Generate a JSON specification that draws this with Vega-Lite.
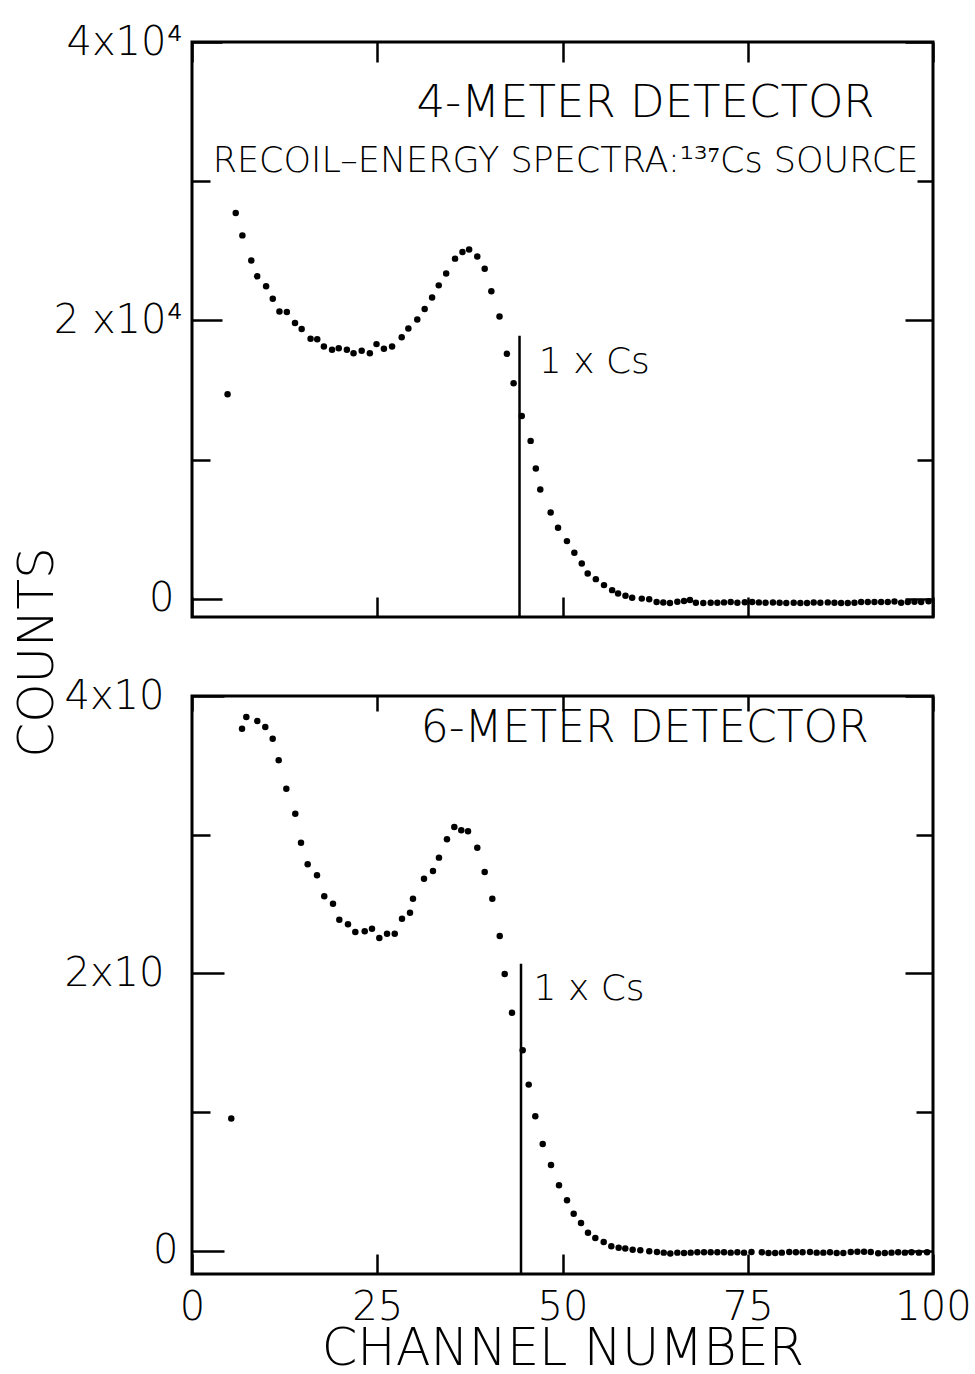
{
  "$schema": "https://vega.github.io/schema/vega-lite/v6.json",
  "background": "white",
  "padding": {"left": 10, "top": 20, "right": 30, "bottom": 0},
  "bounds": "flush",
  "spacing": 79,
  "config": {
    "view": {"stroke": "black", "strokeWidth": 3},
    "font": "DejaVu Sans",
    "axis": {
      "domain": false,
      "grid": false,
      "ticks": true,
      "tickColor": "black",
      "tickWidth": 2.5,
      "labelColor": "black",
      "labelFont": "DejaVu Sans",
      "labelFontWeight": 300,
      "labelFontSize": 40,
      "labelOverlap": false,
      "labelFlush": false,
      "labelBound": false,
      "titleColor": "black",
      "titleFont": "DejaVu Sans",
      "titleFontWeight": 300
    }
  },
  "datasets": {
    "fourMeter": [
      {"channel": 4.8, "counts": 14700}, {"channel": 5.9, "counts": 27720}, {"channel": 6.8, "counts": 26110},
      {"channel": 8.0, "counts": 24300}, {"channel": 8.8, "counts": 23170}, {"channel": 10.0, "counts": 22450},
      {"channel": 10.9, "counts": 21560}, {"channel": 11.8, "counts": 20650}, {"channel": 12.8, "counts": 20600},
      {"channel": 13.9, "counts": 19810}, {"channel": 14.8, "counts": 19390}, {"channel": 16.0, "counts": 18680},
      {"channel": 16.9, "counts": 18650}, {"channel": 17.8, "counts": 18130}, {"channel": 18.9, "counts": 17890},
      {"channel": 19.8, "counts": 18010}, {"channel": 20.9, "counts": 17890}, {"channel": 21.8, "counts": 17650},
      {"channel": 22.9, "counts": 17820}, {"channel": 24.0, "counts": 17650}, {"channel": 24.9, "counts": 18300},
      {"channel": 25.9, "counts": 17960}, {"channel": 27.0, "counts": 18130}, {"channel": 28.3, "counts": 18800},
      {"channel": 29.2, "counts": 19420}, {"channel": 30.4, "counts": 20070}, {"channel": 31.4, "counts": 20830},
      {"channel": 32.4, "counts": 21650}, {"channel": 33.3, "counts": 22520}, {"channel": 34.3, "counts": 23380},
      {"channel": 35.5, "counts": 24440}, {"channel": 36.5, "counts": 24910}, {"channel": 37.4, "counts": 25090},
      {"channel": 38.5, "counts": 24600}, {"channel": 39.5, "counts": 23720}, {"channel": 40.4, "counts": 22090},
      {"channel": 41.5, "counts": 20290}, {"channel": 42.5, "counts": 17600}, {"channel": 43.4, "counts": 15490},
      {"channel": 44.5, "counts": 13140}, {"channel": 45.7, "counts": 11350}, {"channel": 46.4, "counts": 9370},
      {"channel": 47.0, "counts": 7860}, {"channel": 48.4, "counts": 6210}, {"channel": 49.4, "counts": 5110},
      {"channel": 50.6, "counts": 4150}, {"channel": 51.6, "counts": 3310}, {"channel": 52.6, "counts": 2540},
      {"channel": 53.4, "counts": 1820}, {"channel": 54.5, "counts": 1420}, {"channel": 55.6, "counts": 990},
      {"channel": 56.7, "counts": 630}, {"channel": 57.5, "counts": 380}, {"channel": 58.5, "counts": 220},
      {"channel": 59.4, "counts": 90}, {"channel": 60.7, "counts": 20}, {"channel": 61.7, "counts": -20},
      {"channel": 62.7, "counts": -220}, {"channel": 63.6, "counts": -260}, {"channel": 64.5, "counts": -290},
      {"channel": 65.5, "counts": -210}, {"channel": 66.4, "counts": -150}, {"channel": 67.2, "counts": -80},
      {"channel": 68.0, "counts": -270}, {"channel": 69.0, "counts": -300}, {"channel": 70.0, "counts": -280},
      {"channel": 70.9, "counts": -280}, {"channel": 71.8, "counts": -250}, {"channel": 72.7, "counts": -220},
      {"channel": 73.6, "counts": -270}, {"channel": 74.6, "counts": -240}, {"channel": 75.6, "counts": -220},
      {"channel": 76.5, "counts": -250}, {"channel": 77.4, "counts": -280}, {"channel": 78.4, "counts": -260},
      {"channel": 79.3, "counts": -280}, {"channel": 80.2, "counts": -290}, {"channel": 81.2, "counts": -280},
      {"channel": 82.1, "counts": -290}, {"channel": 83.0, "counts": -300}, {"channel": 83.9, "counts": -260},
      {"channel": 84.8, "counts": -270}, {"channel": 85.8, "counts": -250}, {"channel": 86.7, "counts": -270},
      {"channel": 87.6, "counts": -300}, {"channel": 88.5, "counts": -300}, {"channel": 89.4, "counts": -270},
      {"channel": 90.3, "counts": -220}, {"channel": 91.2, "counts": -220}, {"channel": 92.1, "counts": -230},
      {"channel": 93.0, "counts": -230}, {"channel": 93.9, "counts": -230}, {"channel": 94.8, "counts": -180},
      {"channel": 95.7, "counts": -270}, {"channel": 96.6, "counts": -220}, {"channel": 97.5, "counts": -210},
      {"channel": 98.4, "counts": -220}, {"channel": 99.4, "counts": -170}
    ],
    "sixMeter": [
      {"channel": 5.3, "counts": 9.54}, {"channel": 6.75, "counts": 37.64}, {"channel": 7.33, "counts": 38.49},
      {"channel": 8.81, "counts": 38.2}, {"channel": 9.89, "counts": 37.77}, {"channel": 10.89, "counts": 36.92},
      {"channel": 11.7, "counts": 35.37}, {"channel": 12.73, "counts": 33.32}, {"channel": 13.94, "counts": 31.52},
      {"channel": 14.71, "counts": 29.43}, {"channel": 15.61, "counts": 27.87}, {"channel": 16.87, "counts": 27.08},
      {"channel": 17.85, "counts": 25.56}, {"channel": 19.03, "counts": 25.03}, {"channel": 19.88, "counts": 23.88},
      {"channel": 21.05, "counts": 23.55}, {"channel": 22.04, "counts": 22.99}, {"channel": 23.31, "counts": 23.04},
      {"channel": 24.29, "counts": 23.23}, {"channel": 25.28, "counts": 22.56}, {"channel": 26.32, "counts": 22.87},
      {"channel": 27.36, "counts": 22.87}, {"channel": 28.34, "counts": 23.95}, {"channel": 29.42, "counts": 24.38},
      {"channel": 29.82, "counts": 25.39}, {"channel": 31.31, "counts": 26.83}, {"channel": 32.52, "counts": 27.39},
      {"channel": 33.33, "counts": 28.35}, {"channel": 34.41, "counts": 29.67}, {"channel": 35.4, "counts": 30.56},
      {"channel": 36.34, "counts": 30.32}, {"channel": 37.25, "counts": 30.25}, {"channel": 38.5, "counts": 29.07},
      {"channel": 39.5, "counts": 27.32}, {"channel": 40.53, "counts": 25.39}, {"channel": 41.53, "counts": 22.7},
      {"channel": 42.2, "counts": 19.96}, {"channel": 43.18, "counts": 17.17}, {"channel": 44.63, "counts": 14.46},
      {"channel": 45.44, "counts": 11.99}, {"channel": 46.33, "counts": 9.71}, {"channel": 47.33, "counts": 7.71},
      {"channel": 48.45, "counts": 6.2}, {"channel": 49.53, "counts": 4.73}, {"channel": 50.61, "counts": 3.65},
      {"channel": 51.51, "counts": 2.69}, {"channel": 52.5, "counts": 2.02}, {"channel": 53.44, "counts": 1.32},
      {"channel": 54.43, "counts": 0.94}, {"channel": 55.56, "counts": 0.65}, {"channel": 56.59, "counts": 0.34},
      {"channel": 57.58, "counts": 0.24}, {"channel": 58.47, "counts": 0.17}, {"channel": 59.47, "counts": 0.09},
      {"channel": 60.5, "counts": 0.05}, {"channel": 61.71, "counts": -0.02}, {"channel": 62.75, "counts": -0.07},
      {"channel": 63.66, "counts": -0.12}, {"channel": 64.55, "counts": -0.19}, {"channel": 65.5, "counts": -0.12},
      {"channel": 66.4, "counts": -0.15}, {"channel": 67.3, "counts": -0.12}, {"channel": 68.2, "counts": -0.1},
      {"channel": 69.1, "counts": -0.1}, {"channel": 70.0, "counts": -0.1}, {"channel": 70.9, "counts": -0.1},
      {"channel": 71.8, "counts": -0.1}, {"channel": 72.7, "counts": -0.12}, {"channel": 73.6, "counts": -0.1},
      {"channel": 74.5, "counts": -0.12}, {"channel": 75.5, "counts": -0.08}, {"channel": 76.9, "counts": -0.1},
      {"channel": 77.8, "counts": -0.15}, {"channel": 78.7, "counts": -0.15}, {"channel": 79.6, "counts": -0.12},
      {"channel": 80.6, "counts": -0.08}, {"channel": 81.5, "counts": -0.1}, {"channel": 82.4, "counts": -0.1},
      {"channel": 83.4, "counts": -0.08}, {"channel": 84.3, "counts": -0.12}, {"channel": 85.2, "counts": -0.12},
      {"channel": 86.1, "counts": -0.1}, {"channel": 87.0, "counts": -0.14}, {"channel": 87.9, "counts": -0.14},
      {"channel": 88.9, "counts": -0.08}, {"channel": 89.8, "counts": -0.06}, {"channel": 90.7, "counts": -0.06},
      {"channel": 91.6, "counts": -0.08}, {"channel": 92.6, "counts": -0.16}, {"channel": 93.5, "counts": -0.14},
      {"channel": 94.4, "counts": -0.12}, {"channel": 95.3, "counts": -0.1}, {"channel": 96.2, "counts": -0.12},
      {"channel": 97.1, "counts": -0.1}, {"channel": 98.1, "counts": -0.12}, {"channel": 99.2, "counts": -0.1}
    ]
  },
  "vconcat": [
    {
      "width": 741,
      "height": 575,
      "resolve": {"axis": {"x": "independent", "y": "independent"}},
      "layer": [
        {
          "data": {"name": "fourMeter"},
          "mark": {"type": "circle", "size": 42, "color": "black", "opacity": 1},
          "encoding": {
            "x": {
              "field": "channel", "type": "quantitative",
              "scale": {"domain": [0, 100], "nice": false, "zero": false},
              "axis": {"orient": "bottom", "values": [0, 25, 50, 75, 100], "tickSize": -20, "labels": false, "title": null}
            },
            "y": {
              "field": "counts", "type": "quantitative",
              "scale": {"domain": [-1300, 40000], "nice": false, "zero": false},
              "axis": {
                "orient": "left",
                "values": [0, 10000, 20000, 30000, 40000],
                "tickSize": {"condition": {"test": "datum.value % 20000 === 0", "value": -30}, "value": -18},
                "labelPadding": {"condition": {"test": "datum.value === 0", "value": 48}, "value": 40},
                "labelBaseline": "middle",
                "labelExpr": "datum.value === 40000 ? '4x10⁴' : datum.value === 20000 ? '2 x10⁴' : datum.value === 0 ? '0' : ''",
                "title": "COUNTS",
                "titleFontSize": 50,
                "titleAngle": -90,
                "titleAlign": "center",
                "titleBaseline": "middle",
                "titleX": -155,
                "titleY": 610
              }
            }
          }
        },
        {
          "data": {"values": [{"channel": 44.2, "counts": 18900}]},
          "mark": {"type": "rule", "color": "black", "strokeWidth": 2.5},
          "encoding": {
            "x": {
              "field": "channel", "type": "quantitative",
              "axis": {"orient": "top", "values": [0, 25, 50, 75, 100], "tickSize": -20, "labels": false, "title": null}
            },
            "y": {
              "field": "counts", "type": "quantitative",
              "axis": {
                "orient": "right",
                "values": [0, 10000, 20000, 30000, 40000],
                "tickSize": {"condition": {"test": "datum.value % 20000 === 0", "value": -28}, "value": -16},
                "labels": false, "title": null
              }
            },
            "y2": {"datum": -1300}
          }
        },
        {
          "data": {"values": [{"channel": 61.2, "counts": 35650, "label": "4-METER DETECTOR"}]},
          "mark": {"type": "text", "fontSize": 45, "fontWeight": 300, "align": "center", "baseline": "middle", "color": "black"},
          "encoding": {
            "x": {"field": "channel", "type": "quantitative", "axis": null},
            "y": {"field": "counts", "type": "quantitative", "axis": null},
            "text": {"field": "label"}
          }
        },
        {
          "data": {"values": [{"channel": 50.4, "counts": 31440, "label": "RECOIL–ENERGY SPECTRA:¹³⁷Cs SOURCE"}]},
          "mark": {"type": "text", "fontSize": 35, "fontWeight": 300, "align": "center", "baseline": "middle", "color": "black"},
          "encoding": {
            "x": {"field": "channel", "type": "quantitative", "axis": null},
            "y": {"field": "counts", "type": "quantitative", "axis": null},
            "text": {"field": "label"}
          }
        },
        {
          "data": {"values": [{"channel": 46.8, "counts": 17050, "label": "1 x Cs"}]},
          "mark": {"type": "text", "fontSize": 36, "fontWeight": 300, "align": "left", "baseline": "middle", "color": "black"},
          "encoding": {
            "x": {"field": "channel", "type": "quantitative", "axis": null},
            "y": {"field": "counts", "type": "quantitative", "axis": null},
            "text": {"field": "label"}
          }
        }
      ]
    },
    {
      "width": 741,
      "height": 578,
      "resolve": {"axis": {"x": "independent", "y": "independent"}},
      "layer": [
        {
          "data": {"name": "sixMeter"},
          "mark": {"type": "circle", "size": 42, "color": "black", "opacity": 1},
          "encoding": {
            "x": {
              "field": "channel", "type": "quantitative",
              "scale": {"domain": [0, 100], "nice": false, "zero": false},
              "axis": {
                "orient": "bottom", "values": [0, 25, 50, 75, 100], "tickSize": -20,
                "labelPadding": 33, "labelBaseline": "top",
                "title": "CHANNEL NUMBER", "titleFontSize": 51, "titlePadding": -3
              }
            },
            "y": {
              "field": "counts", "type": "quantitative",
              "scale": {"domain": [-1.66, 40], "nice": false, "zero": false},
              "axis": {
                "orient": "left",
                "values": [0, 10, 20, 30, 40],
                "tickSize": {"condition": {"test": "datum.value % 20 === 0", "value": -32}, "value": -18},
                "labelPadding": {"condition": {"test": "datum.value === 0", "value": 46}, "value": 60},
                "labelBaseline": "middle",
                "labelExpr": "datum.value === 40 ? '4x10' : datum.value === 20 ? '2x10' : datum.value === 0 ? '0' : ''",
                "title": null
              }
            }
          }
        },
        {
          "data": {"values": [{"channel": 44.4, "counts": 20.7}]},
          "mark": {"type": "rule", "color": "black", "strokeWidth": 2.5},
          "encoding": {
            "x": {
              "field": "channel", "type": "quantitative",
              "axis": {"orient": "top", "values": [0, 25, 50, 75, 100], "tickSize": -15, "labels": false, "title": null}
            },
            "y": {
              "field": "counts", "type": "quantitative",
              "axis": {
                "orient": "right",
                "values": [0, 10, 20, 30, 40],
                "tickSize": {"condition": {"test": "datum.value % 20 === 0", "value": -28}, "value": -17},
                "labels": false, "title": null
              }
            },
            "y2": {"datum": -1.66}
          }
        },
        {
          "data": {"values": [{"channel": 61.1, "counts": 37.6, "label": "6-METER DETECTOR"}]},
          "mark": {"type": "text", "fontSize": 44, "fontWeight": 300, "align": "center", "baseline": "middle", "color": "black"},
          "encoding": {
            "x": {"field": "channel", "type": "quantitative", "axis": null},
            "y": {"field": "counts", "type": "quantitative", "axis": null},
            "text": {"field": "label"}
          }
        },
        {
          "data": {"values": [{"channel": 46.1, "counts": 18.9, "label": "1 x Cs"}]},
          "mark": {"type": "text", "fontSize": 36, "fontWeight": 300, "align": "left", "baseline": "middle", "color": "black"},
          "encoding": {
            "x": {"field": "channel", "type": "quantitative", "axis": null},
            "y": {"field": "counts", "type": "quantitative", "axis": null},
            "text": {"field": "label"}
          }
        }
      ]
    }
  ]
}
